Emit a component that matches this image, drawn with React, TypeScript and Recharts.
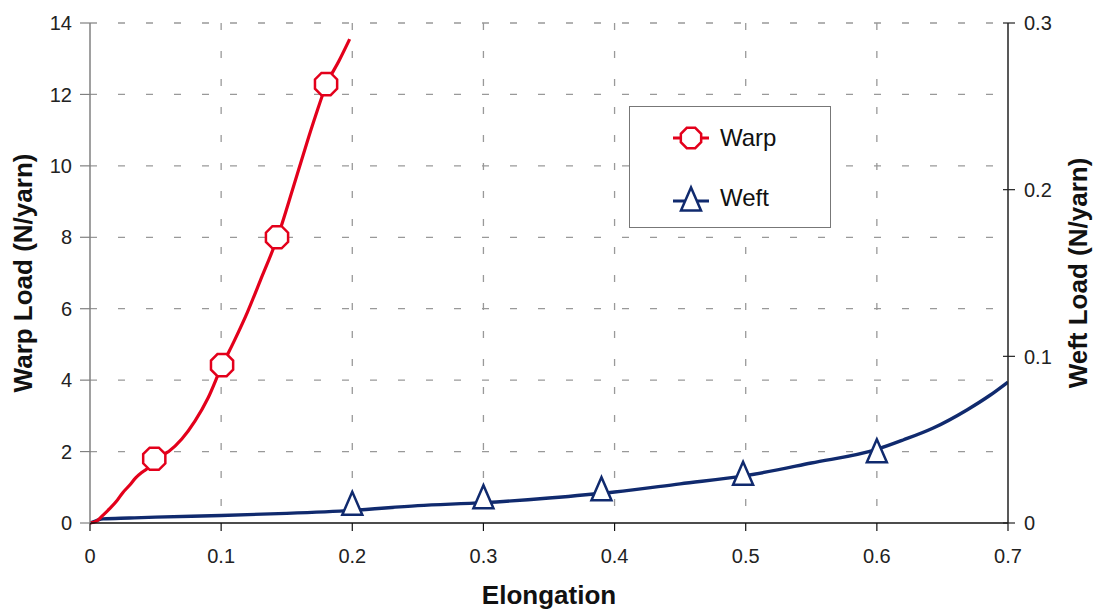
import React from 'react';
import {
  ComposedChart,
  Line,
  Scatter,
  XAxis,
  YAxis,
  CartesianGrid,
} from 'recharts';

// warp curve (left axis, N/yarn)
const warpX = [0, 0.005, 0.01, 0.015, 0.02, 0.025, 0.03, 0.035, 0.04, 0.045, 0.049, 0.06, 0.07, 0.08, 0.09, 0.1, 0.11, 0.12, 0.13, 0.143, 0.155, 0.165, 0.172, 0.18, 0.19, 0.198];
const warpY = [0, 0.05, 0.22, 0.4, 0.6, 0.85, 1.05, 1.27, 1.43, 1.57, 1.8, 2.0, 2.35, 2.85, 3.5, 4.35, 5.1, 5.9, 6.8, 8.0, 9.4, 10.6, 11.4, 12.25, 12.95, 13.55];
const warpMarkX = [0.049, 0.1007, 0.1426, 0.18];
const warpMarkY = [1.8, 4.42, 8.0, 12.29];

// weft curve (right axis, N/yarn)
const weftX = [0, 0.005, 0.01, 0.03, 0.05, 0.1, 0.15, 0.2, 0.25, 0.3, 0.35, 0.4, 0.45, 0.5, 0.55, 0.6, 0.62, 0.643, 0.669, 0.686, 0.7];
const weftY = [0, 0.0015, 0.0025, 0.003, 0.0035, 0.0045, 0.0058, 0.0076, 0.0104, 0.0122, 0.015, 0.0186, 0.0235, 0.0284, 0.036, 0.0442, 0.0498, 0.057, 0.068, 0.0765, 0.0846];
const weftMarkX = [0.2, 0.3, 0.39, 0.498, 0.6];
const weftMarkY = [0.0118, 0.0158, 0.0206, 0.0298, 0.0433];

const xTicks = [0, 0.1, 0.2, 0.3, 0.4, 0.5, 0.6, 0.7];
const leftTicks = [0, 2, 4, 6, 8, 10, 12, 14];
const rightTicks = [0, 0.1, 0.2, 0.3];

const RED = '#e3001b';
const NAVY = '#102a6e';
const FONT = '"Liberation Sans", Arial, sans-serif';

const warpData = warpX.map((x, i) => ({ x, y: warpY[i] }));
const warpMarks = warpMarkX.map((x, i) => ({ x, y: warpMarkY[i] }));
const weftData = weftX.map((x, i) => ({ x, y: weftY[i] }));
const weftMarks = weftMarkX.map((x, i) => ({ x, y: weftMarkY[i] }));

const octagon = (cx: number, cy: number, r: number) => {
  const pts: string[] = [];
  for (let k = 0; k < 8; k++) {
    const a = Math.PI / 8 + (k * Math.PI) / 4;
    pts.push(`${cx + r * Math.cos(a)},${cy + r * Math.sin(a)}`);
  }
  return pts.join(' ');
};

const triangle = (cx: number, cy: number) =>
  `${cx},${cy - 11.5} ${cx - 10},${cy + 11.5} ${cx + 10},${cy + 11.5}`;

const OctShape = (props: any) => (
  <polygon points={octagon(props.cx, props.cy, 12)} fill="#fff" stroke={RED} strokeWidth={2.5} />
);

const TriShape = (props: any) => (
  <polygon points={triangle(props.cx, props.cy)} fill="#fff" stroke={NAVY} strokeWidth={2.5} />
);

const RightTick = ({ x, y, payload }: any) => (
  <g>
    <line x1={x - 5} x2={x + 7} y1={y} y2={y} stroke="#222" strokeWidth={1.2} />
    <text x={x + 16} y={y} dy="0.36em" textAnchor="start" fill="#222" fontSize={20} fontFamily={FONT}>
      {payload.value}
    </text>
  </g>
);

const LegendBox = () => (
  <div
    style={{
      position: 'absolute',
      left: 629,
      top: 106,
      width: 202,
      height: 122,
      border: '1.5px solid #777',
      background: '#fff',
      fontFamily: FONT,
      fontSize: 24,
      color: '#111',
      boxSizing: 'border-box',
    }}
  >
    <div style={{ display: 'flex', alignItems: 'center', height: 30, marginTop: 16, marginLeft: 42 }}>
      <svg width={40} height={30}>
        <line x1={1} x2={37} y1={15} y2={15} stroke={RED} strokeWidth={3} />
        <polygon points={octagon(19, 15, 11)} fill="#fff" stroke={RED} strokeWidth={2.5} />
      </svg>
      <span style={{ marginLeft: 8 }}>Warp</span>
    </div>
    <div style={{ display: 'flex', alignItems: 'center', height: 30, marginTop: 30, marginLeft: 42 }}>
      <svg width={40} height={30}>
        <line x1={1} x2={37} y1={18} y2={18} stroke={NAVY} strokeWidth={3} />
        <polygon points={triangle(19, 16)} fill="#fff" stroke={NAVY} strokeWidth={2.5} />
      </svg>
      <span style={{ marginLeft: 8 }}>Weft</span>
    </div>
  </div>
);

const tickStyle = { fontSize: 20, fill: '#222', fontFamily: FONT };
const titleStyle = { fontSize: 26, fontWeight: 'bold', fill: '#111', fontFamily: FONT };

export default function App() {
  return (
    <div style={{ position: 'absolute', left: 0, top: 0, width: 1097, height: 610, background: '#fff' }}>
      <ComposedChart
        width={1097}
        height={610}
        margin={{ top: 23, right: 29, bottom: 47, left: 30 }}
        style={{ fontFamily: FONT }}
      >
        <CartesianGrid
          yAxisId="left"
          stroke="#999"
          strokeWidth={1.3}
          strokeDasharray="7 21"
          horizontalValues={leftTicks.slice(1)}
          verticalValues={xTicks.slice(1, 7)}
        />
        <XAxis
          type="number"
          dataKey="x"
          domain={[0, 0.7]}
          ticks={xTicks}
          allowDataOverflow
          tick={tickStyle}
          tickSize={8}
          tickMargin={18}
          height={40}
          axisLine={{ stroke: '#111', strokeWidth: 1.5 }}
          tickLine={{ stroke: '#111', strokeWidth: 1.2 }}
          label={{
            value: 'Elongation',
            position: 'insideBottom',
            offset: -41,
            style: titleStyle,
          }}
        />
        <YAxis
          yAxisId="left"
          type="number"
          domain={[0, 14]}
          ticks={leftTicks}
          width={60}
          tick={tickStyle}
          tickSize={10}
          tickMargin={8}
          axisLine={{ stroke: '#808080', strokeWidth: 1.5 }}
          tickLine={{ stroke: '#808080', strokeWidth: 1.2 }}
          label={{
            value: 'Warp Load (N/yarn)',
            angle: -90,
            position: 'insideLeft',
            offset: -7,
            style: { ...titleStyle, textAnchor: 'middle' },
          }}
        />
        <YAxis
          yAxisId="right"
          orientation="right"
          type="number"
          domain={[0, 0.3]}
          ticks={rightTicks}
          width={60}
          tick={<RightTick />}
          tickSize={0}
          tickMargin={0}
          tickLine={false}
          axisLine={{ stroke: '#222', strokeWidth: 1.5 }}
          label={{
            value: 'Weft Load (N/yarn)',
            angle: -90,
            position: 'insideRight',
            offset: -10,
            style: { ...titleStyle, textAnchor: 'middle' },
          }}
        />
        <Line
          yAxisId="right"
          data={weftData}
          dataKey="y"
          type="monotone"
          stroke={NAVY}
          strokeWidth={3.4}
          dot={false}
          activeDot={false}
          isAnimationActive={false}
        />
        <Line
          yAxisId="left"
          data={warpData}
          dataKey="y"
          type="monotone"
          stroke={RED}
          strokeWidth={3.2}
          dot={false}
          activeDot={false}
          isAnimationActive={false}
        />
        <Scatter
          yAxisId="left"
          data={warpMarks}
          dataKey="y"
          shape={OctShape}
          isAnimationActive={false}
        />
        <Scatter
          yAxisId="right"
          data={weftMarks}
          dataKey="y"
          shape={TriShape}
          isAnimationActive={false}
        />
      </ComposedChart>
      <LegendBox />
    </div>
  );
}
